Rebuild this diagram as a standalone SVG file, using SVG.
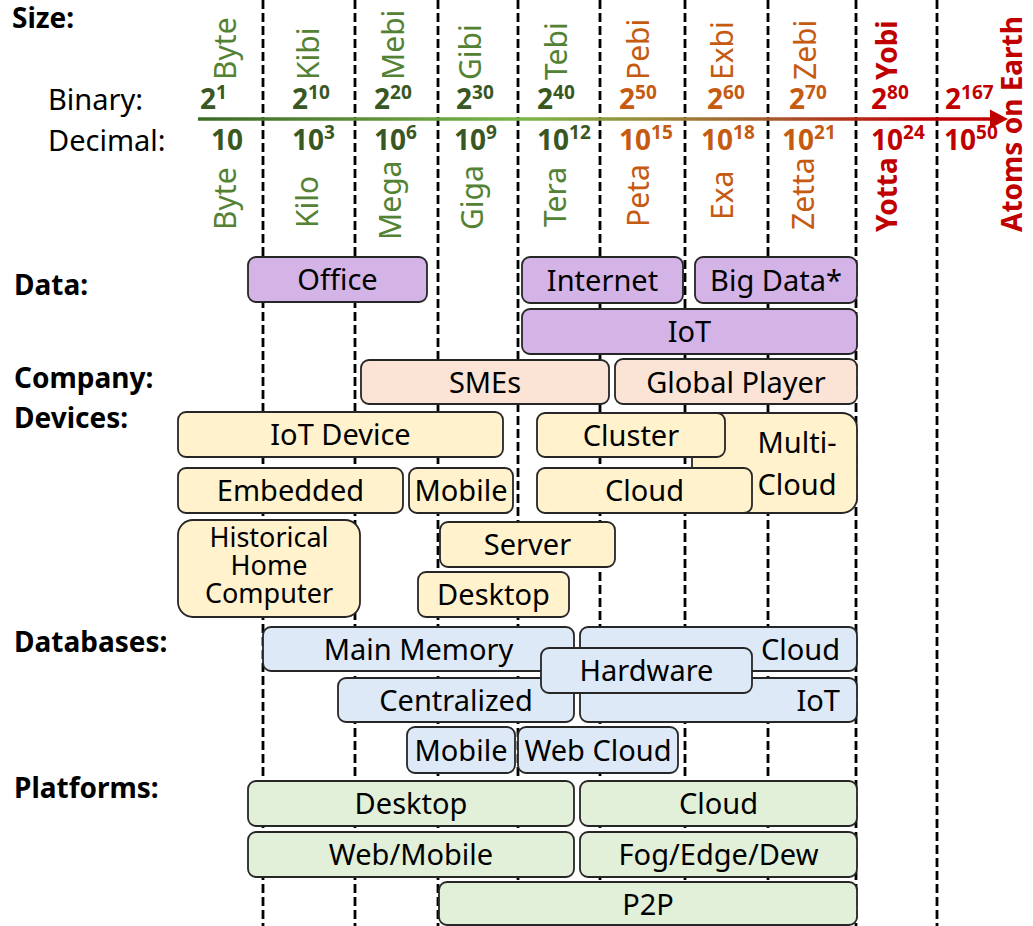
<svg xmlns="http://www.w3.org/2000/svg" width="1033" height="926" viewBox="0 0 1033 926">
<defs>
<linearGradient id="axisGrad" gradientUnits="userSpaceOnUse" x1="198" y1="0" x2="1008" y2="0">
<stop offset="0" stop-color="#3d6828"/>
<stop offset="0.4" stop-color="#7ab648"/>
<stop offset="0.56" stop-color="#9a8a3a"/>
<stop offset="0.72" stop-color="#a8552c"/>
<stop offset="0.9" stop-color="#c00000"/>
<stop offset="1" stop-color="#c00000"/>
</linearGradient>
</defs>
<style>
text{font-family:"Noto Sans","Liberation Sans",sans-serif;fill:#000}
.sec{font-size:28px;font-weight:bold}
.lbl{font-size:29px}
.box{stroke:#262626;stroke-width:1.8}
.t{font-size:29px;text-anchor:middle}
.t2{font-size:27px;text-anchor:middle}
.te{font-size:29px;text-anchor:end}
.purple{fill:#d4b3e6}
.peach{fill:#fbe4d5}
.yellow{fill:#fff2cc}
.blue{fill:#dde9f6}
.green{fill:#e2efd9}
.grid{stroke:#000;stroke-width:2.8;stroke-dasharray:9 4;fill:none}
.num{font-size:28px;font-weight:bold}
.sup{font-size:19px}
.rot{font-size:30px}
.rotb{font-size:28px;font-weight:bold}
.g1{fill:#548235}
.g2{fill:#385723}
.o{fill:#c55a11}
.r{fill:#c00000}
</style>

<g id="grid-lines">
<line class="grid" x1="263" y1="0" x2="263" y2="926"/>
<line class="grid" x1="355" y1="0" x2="355" y2="926"/>
<line class="grid" x1="438" y1="0" x2="438" y2="926"/>
<line class="grid" x1="518" y1="0" x2="518" y2="926"/>
<line class="grid" x1="600" y1="0" x2="600" y2="926"/>
<line class="grid" x1="685" y1="0" x2="685" y2="926"/>
<line class="grid" x1="768" y1="0" x2="768" y2="926"/>
<line class="grid" x1="856" y1="0" x2="856" y2="926"/>
<line class="grid" x1="937" y1="0" x2="937" y2="926"/>
</g>

<g id="connectors">
<line x1="198" y1="119" x2="994" y2="119" stroke="url(#axisGrad)" stroke-width="3.5"/>
<polygon points="1008,119 990,109.5 990,128.5" fill="#c00000"/>
</g>

<g id="section-labels">
<text class="sec" x="12" y="28">Size:</text>
<text class="sec" x="14" y="295">Data:</text>
<text class="sec" x="14" y="388">Company:</text>
<text class="sec" x="14" y="428">Devices:</text>
<text class="sec" x="14" y="652">Databases:</text>
<text class="sec" x="14" y="798">Platforms:</text>
<text class="lbl" x="48" y="110">Binary:</text>
<text class="lbl" x="48" y="151">Decimal:</text>
</g>

<g id="binary-names">
<text class="rot g1" transform="translate(236,80) rotate(-90)">Byte</text>
<text class="rot g1" transform="translate(319,80) rotate(-90)">Kibi</text>
<text class="rot g1" transform="translate(404,80) rotate(-90)">Mebi</text>
<text class="rot g1" transform="translate(481,80) rotate(-90)">Gibi</text>
<text class="rot g1" transform="translate(567,80) rotate(-90)">Tebi</text>
<text class="rot o" transform="translate(649,80) rotate(-90)">Pebi</text>
<text class="rot o" transform="translate(733,80) rotate(-90)">Exbi</text>
<text class="rot o" transform="translate(816,80) rotate(-90)">Zebi</text>
<text class="rotb r" transform="translate(897,80) rotate(-90)">Yobi</text>
</g>

<g id="binary-values">
<text class="num g2" x="200" y="109">2<tspan class="sup" dy="-10">1</tspan></text>
<text class="num g2" x="292" y="109">2<tspan class="sup" dy="-10">10</tspan></text>
<text class="num g2" x="374" y="109">2<tspan class="sup" dy="-10">20</tspan></text>
<text class="num g2" x="456" y="109">2<tspan class="sup" dy="-10">30</tspan></text>
<text class="num g2" x="537" y="109">2<tspan class="sup" dy="-10">40</tspan></text>
<text class="num o" x="619" y="109">2<tspan class="sup" dy="-10">50</tspan></text>
<text class="num o" x="707" y="109">2<tspan class="sup" dy="-10">60</tspan></text>
<text class="num o" x="789" y="109">2<tspan class="sup" dy="-10">70</tspan></text>
<text class="num r" x="871" y="109">2<tspan class="sup" dy="-10">80</tspan></text>
<text class="num r" x="945" y="109">2<tspan class="sup" dy="-10">167</tspan></text>
</g>

<g id="decimal-values">
<text class="num g2" x="211" y="150">10</text>
<text class="num g2" x="292" y="150">10<tspan class="sup" dy="-11">3</tspan></text>
<text class="num g2" x="374" y="150">10<tspan class="sup" dy="-11">6</tspan></text>
<text class="num g2" x="454" y="150">10<tspan class="sup" dy="-11">9</tspan></text>
<text class="num g2" x="537" y="150">10<tspan class="sup" dy="-11">12</tspan></text>
<text class="num o" x="619" y="150">10<tspan class="sup" dy="-11">15</tspan></text>
<text class="num o" x="701" y="150">10<tspan class="sup" dy="-11">18</tspan></text>
<text class="num o" x="782" y="150">10<tspan class="sup" dy="-11">21</tspan></text>
<text class="num r" x="871" y="150">10<tspan class="sup" dy="-11">24</tspan></text>
<text class="num r" x="944" y="150">10<tspan class="sup" dy="-11">50</tspan></text>
</g>

<g id="decimal-names">
<text class="rot g1" transform="translate(236,230) rotate(-90)">Byte</text>
<text class="rot g1" transform="translate(318,228) rotate(-90)">Kilo</text>
<text class="rot g1" transform="translate(401,240) rotate(-90)">Mega</text>
<text class="rot g1" transform="translate(483,230) rotate(-90)">Giga</text>
<text class="rot g1" transform="translate(566,227) rotate(-90)">Tera</text>
<text class="rot o" transform="translate(649,227) rotate(-90)">Peta</text>
<text class="rot o" transform="translate(733,220) rotate(-90)">Exa</text>
<text class="rot o" transform="translate(814,230) rotate(-90)">Zetta</text>
<text class="rotb r" transform="translate(897,232) rotate(-90)">Yotta</text>
<text class="rotb r" transform="translate(1022,232) rotate(-90)">Atoms on Earth</text>
</g>

<!-- Data -->
<g id="office"><rect class="box purple" x="248" y="257" width="179" height="45" rx="8"/><text class="t" x="337.5" y="290">Office</text></g>
<g id="internet"><rect class="box purple" x="522" y="257" width="161" height="46" rx="8"/><text class="t" x="602.5" y="291">Internet</text></g>
<g id="bigdata"><rect class="box purple" x="695" y="257" width="162" height="46" rx="8"/><text class="t" x="776" y="291">Big Data*</text></g>
<g id="iot-data"><rect class="box purple" x="522" y="309" width="335" height="45" rx="8"/><text class="t" x="689.5" y="342">IoT</text></g>

<!-- Company -->
<g id="smes"><rect class="box peach" x="361" y="360" width="248" height="44" rx="8"/><text class="t" x="485" y="393">SMEs</text></g>
<g id="global-player"><rect class="box peach" x="615" y="359" width="242" height="45" rx="8"/><text class="t" x="736" y="393">Global Player</text></g>

<!-- Devices -->
<g id="iot-device"><rect class="box yellow" x="178" y="412" width="325" height="45" rx="8"/><text class="t" x="340.5" y="445">IoT Device</text></g>
<g id="embedded"><rect class="box yellow" x="178" y="468" width="225" height="45" rx="8"/><text class="t" x="290.5" y="501">Embedded</text></g>
<g id="mobile-device"><rect class="box yellow" x="409" y="468" width="104" height="45" rx="8"/><text class="t" x="461" y="501">Mobile</text></g>
<g id="historical"><rect class="box yellow" x="178" y="520" width="182" height="97" rx="15"/><text class="t2" x="269" y="547">Historical</text><text class="t2" x="269" y="575">Home</text><text class="t2" x="269" y="603">Computer</text></g>
<g id="multi-cloud"><rect class="box yellow" x="692" y="413" width="165" height="100" rx="15"/><text class="t" x="797" y="453">Multi-</text><text class="t" x="797" y="495">Cloud</text></g>
<g id="cluster"><rect class="box yellow" x="537" y="413" width="188" height="44" rx="8"/><text class="t" x="631" y="446">Cluster</text></g>
<g id="cloud-device"><rect class="box yellow" x="537" y="468" width="215" height="45" rx="8"/><text class="t" x="644.5" y="501">Cloud</text></g>
<g id="server"><rect class="box yellow" x="440" y="522" width="175" height="45" rx="8"/><text class="t" x="527.5" y="555">Server</text></g>
<g id="desktop-device"><rect class="box yellow" x="418" y="572" width="151" height="45" rx="8"/><text class="t" x="493.5" y="605">Desktop</text></g>

<!-- Databases -->
<g id="main-memory"><rect class="box blue" x="263" y="627" width="311" height="44" rx="8"/><text class="t" x="418.5" y="660">Main Memory</text></g>
<g id="cloud-db"><rect class="box blue" x="580" y="627" width="277" height="44" rx="8"/><text class="te" x="840" y="660">Cloud</text></g>
<g id="centralized"><rect class="box blue" x="338" y="678" width="236" height="44" rx="8"/><text class="t" x="456" y="711">Centralized</text></g>
<g id="iot-db"><rect class="box blue" x="580" y="678" width="277" height="44" rx="8"/><text class="te" x="840" y="711">IoT</text></g>
<g id="hardware"><rect class="box blue" x="541" y="648" width="211" height="45" rx="8"/><text class="t" x="646.5" y="681">Hardware</text></g>
<g id="mobile-db"><rect class="box blue" x="407" y="727" width="108" height="46" rx="8"/><text class="t" x="461" y="761">Mobile</text></g>
<g id="web-cloud"><rect class="box blue" x="518" y="727" width="160" height="46" rx="8"/><text class="t" x="598" y="761">Web Cloud</text></g>

<!-- Platforms -->
<g id="desktop-platform"><rect class="box green" x="248" y="781" width="326" height="45" rx="8"/><text class="t" x="411" y="814">Desktop</text></g>
<g id="cloud-platform"><rect class="box green" x="580" y="781" width="277" height="45" rx="8"/><text class="t" x="718.5" y="814">Cloud</text></g>
<g id="web-mobile"><rect class="box green" x="248" y="832" width="326" height="45" rx="8"/><text class="t" x="411" y="865">Web/Mobile</text></g>
<g id="fog-edge-dew"><rect class="box green" x="580" y="832" width="277" height="45" rx="8"/><text class="t" x="718.5" y="865">Fog/Edge/Dew</text></g>
<g id="p2p"><rect class="box green" x="439" y="882" width="418" height="43" rx="8"/><text class="t" x="648" y="915">P2P</text></g>
</svg>
